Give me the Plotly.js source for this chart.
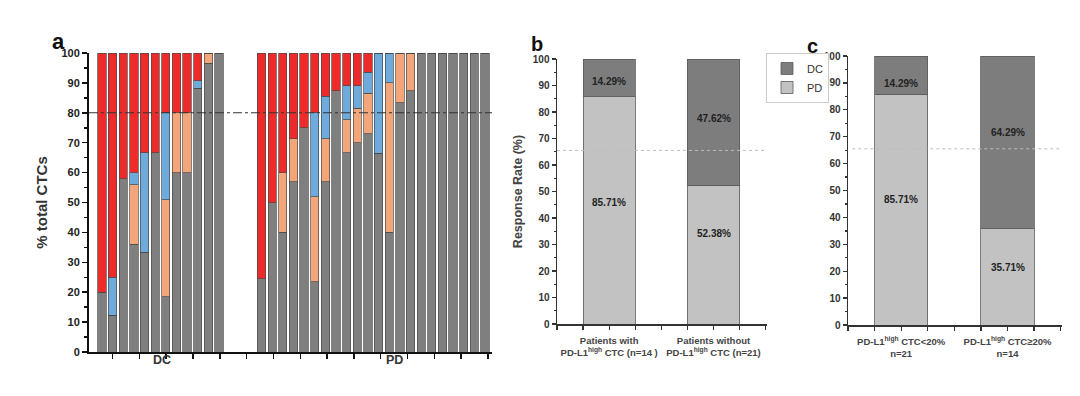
<!DOCTYPE html>
<html><head><meta charset="utf-8">
<script src="https://cdn.plot.ly/plotly-3.0.1.min.js"></script>
<style>html,body{margin:0;padding:0;background:#fff}#chart{width:1080px;height:396px}</style>
</head><body><div id="chart"></div>
<script>
// ---------- Panel a data (% of total CTCs per patient, stacked segments bottom->top) ----------
const dcGrey   = [20, 12.3, 58, 36, 33.3, 66.7, 18.5, 60, 60, 88.2, 96.5, 100];
const dcOrange = [0, 0, 0, 20, 0, 0, 32.5, 20, 20, 0, 3.5, 0];
const dcBlue   = [0, 12.7, 0, 4, 33.4, 0, 29, 0, 0, 2.5, 0, 0];
const dcRed    = [80, 75, 42, 40, 33.3, 33.3, 20, 20, 20, 9.3, 0, 0];

const pdGrey   = [24.5, 50, 40, 57, 75, 23.5, 57, 87.4, 66.7, 70, 73, 66.4, 40, 83.4, 87.4, 100, 100, 100, 100, 100, 100, 100];
const pdOrange = [0, 0, 20, 14.3, 0, 28.5, 14.3, 0, 11, 11.6, 13.5, 0, 50, 16.6, 12.6, 0, 0, 0, 0, 0, 0, 0];
const pdBlue   = [0, 0, 0, 0, 0, 28, 14.3, 0, 11.3, 7.4, 7, 33.6, 10, 0, 0, 0, 0, 0, 0, 0, 0, 0];
const pdRed    = [75.5, 50, 40, 28.7, 25, 20, 14.4, 12.6, 11, 11, 6.5, 0, 0, 0, 0, 0, 0, 0, 0, 0, 0, 0];
const groupLabels = ["DC", "PD"];
const cutoffA = 80;

// ---------- Panel b data ----------
const bCategories = ["Patients with<br>PD-L1<sup>high</sup> CTC (n=14 )", "Patients without<br>PD-L1<sup>high</sup> CTC (n=21)"];
const bPD = [85.71, 52.38];
const bDC = [14.29, 47.62];

// ---------- Panel c data ----------
const cCategories = ["PD-L1<sup>high</sup> CTC<20%<br>n=21", "PD-L1<sup>high</sup> CTC≥20%<br>n=14"];
const cPD = [85.71, 35.71];
const cDC = [14.29, 64.29];
const refLineBC = 65.5;

// ---------- build ----------
const gapSlots = 3;
const dcX = dcGrey.map((_, i) => i + 1);
const pdX = pdGrey.map((_, i) => dcGrey.length + gapSlots + i + 1);
const allX = dcX.concat(pdX);
const outline = {color: '#4a4a4a', width: 0.7};
const aColors = {grey: '#7f7f7f', orange: '#f2a67a', blue: '#6faadd', red: '#ee2b2b'};
function segA(name, vals, color) {
  return {type: 'bar', x: allX, y: vals, width: 0.78, xaxis: 'x', yaxis: 'y',
    marker: {color: color, line: outline}, showlegend: false, name: name, hoverinfo: 'skip'};
}
const traces = [
  segA('grey', dcGrey.concat(pdGrey), aColors.grey),
  segA('orange', dcOrange.concat(pdOrange), aColors.orange),
  segA('blue', dcBlue.concat(pdBlue), aColors.blue),
  segA('red', dcRed.concat(pdRed), aColors.red)
];
const bcX = [2, 6];
const colPD = '#c2c2c2', colDC = '#7d7d7d';
const bcLine = {color: '#5a5a5a', width: 0.8};
traces.push({type: 'bar', x: bcX, y: bPD, width: 2, xaxis: 'x2', yaxis: 'y2', name: 'PD', legendgroup: 'PD', legendrank: 2,
  marker: {color: colPD, line: bcLine}, showlegend: true});
traces.push({type: 'bar', x: bcX, y: bDC, width: 2, xaxis: 'x2', yaxis: 'y2', name: 'DC', legendgroup: 'DC', legendrank: 1,
  marker: {color: colDC, line: bcLine}, showlegend: true});
traces.push({type: 'bar', x: bcX, y: cPD, width: 2, xaxis: 'x3', yaxis: 'y3', name: 'PD', legendgroup: 'PD',
  marker: {color: colPD, line: bcLine}, showlegend: false});
traces.push({type: 'bar', x: bcX, y: cDC, width: 2, xaxis: 'x3', yaxis: 'y3', name: 'DC', legendgroup: 'DC',
  marker: {color: colDC, line: bcLine}, showlegend: false});

const F = 'Liberation Sans, Arial, sans-serif';
const fb = (s, c) => ({family: F, size: s, color: c || '#222', weight: 'bold'});
const px = v => v / 1080, py = v => 1 - v / 396;

function bcYAxis(dom, anchor, titleText) {
  const ax = {domain: dom, anchor: anchor, range: [0, 100], dtick: 10, tick0: 0, ticks: 'outside', ticklen: 4, tickwidth: 1.3,
    tickcolor: '#333', showline: true, linecolor: '#333', linewidth: 1.5, showgrid: false, zeroline: false,
    tickfont: fb(10, '#333'), minor: {dtick: 5, ticks: 'outside', ticklen: 2, tickcolor: '#333'}};
  if (titleText) ax.title = {text: titleText, font: fb(12.5, '#444'), standoff: 7};
  return ax;
}
function bcXAxis(dom, anchor, cats) {
  return {domain: dom, anchor: anchor, range: [0, 8.05], tickvals: bcX, ticktext: cats,
    ticks: 'outside', ticklen: 4, tickwidth: 1.3, tickcolor: '#333',
    minor: {tick0: 0, dtick: 1, ticks: 'outside', ticklen: 4, tickwidth: 1.3, tickcolor: '#333'},
    showline: true, linecolor: '#333', linewidth: 1.5, showgrid: false, zeroline: false,
    tickfont: fb(9.5, '#444'), tickangle: 0, ticklabelstandoff: 3};
}

const layout = {
  width: 1080, height: 396, autosize: false, margin: {l: 0, r: 0, t: 0, b: 0},
  paper_bgcolor: '#fff', plot_bgcolor: 'rgba(0,0,0,0)', barmode: 'stack', bargap: 0,
  xaxis: {domain: [px(89), px(492)], anchor: 'y', range: [-0.22, 37.66], tick0: 2, dtick: 2.52,
    ticks: 'outside', ticklen: 5, tickwidth: 1.5, tickcolor: '#111', showticklabels: false,
    showline: true, linecolor: '#111', linewidth: 2, showgrid: false, zeroline: false},
  yaxis: {domain: [py(352), py(53)], anchor: 'x', range: [0, 100], dtick: 10, ticks: 'outside', ticklen: 5, tickwidth: 1.5,
    tickcolor: '#111', showline: true, linecolor: '#111', linewidth: 2, showgrid: false, zeroline: false,
    tickfont: fb(11, '#222'), minor: {dtick: 5, ticks: 'outside', ticklen: 3, tickcolor: '#111'},
    title: {text: '% total CTCs', font: fb(15, '#333'), standoff: 10}},
  xaxis2: bcXAxis([px(557), px(767)], 'y2', bCategories),
  yaxis2: bcYAxis([py(324), py(59)], 'x2', 'Response Rate (%)'),
  xaxis3: bcXAxis([px(848), px(1062)], 'y3', cCategories),
  yaxis3: bcYAxis([py(325), py(56)], 'x3', null),
  showlegend: true,
  legend: {x: px(766), y: py(53), xanchor: 'left', yanchor: 'top', bgcolor: '#fff', bordercolor: '#ccc',
    borderwidth: 1, font: {family: F, size: 11, color: '#333'}, tracegroupgap: 0, traceorder: 'normal',
    itemwidth: 30},
  shapes: [
    {type: 'line', xref: 'x domain', x0: 0, x1: 1, yref: 'y', y0: cutoffA, y1: cutoffA,
      line: {color: '#333', width: 1.1, dash: 'dashdot'}},
    {type: 'line', xref: 'x2 domain', x0: 0, x1: 1, yref: 'y2', y0: refLineBC, y1: refLineBC,
      line: {color: '#bdbdbd', width: 1, dash: 'dot'}, layer: 'above'},
    {type: 'line', xref: 'x3 domain', x0: 0.02, x1: 1, yref: 'y3', y0: refLineBC, y1: refLineBC,
      line: {color: '#bdbdbd', width: 1, dash: 'dot'}, layer: 'above'}
  ],
  annotations: [
    {text: 'a', xref: 'paper', yref: 'paper', x: px(50), y: py(27), showarrow: false, font: fb(22, '#111')},
    {text: 'b', xref: 'paper', yref: 'paper', x: px(537), y: py(31), showarrow: false, font: fb(20, '#111')},
    {text: 'c', xref: 'paper', yref: 'paper', x: px(820), y: py(33), showarrow: false, font: fb(20, '#111')},
    {text: groupLabels[0], xref: 'x', x: 6.6, yref: 'paper', y: py(369), showarrow: false, font: fb(12.5, '#333')},
    {text: groupLabels[1], xref: 'x', x: 28.5, yref: 'paper', y: py(369), showarrow: false, font: fb(12.5, '#333')},
    {text: bDC[0].toFixed(2) + '%', xref: 'x2', x: bcX[0], yref: 'y2', y: 91.7, showarrow: false, font: fb(10, '#222')},
    {text: bPD[0].toFixed(2) + '%', xref: 'x2', x: bcX[0], yref: 'y2', y: 46, showarrow: false, font: fb(10, '#222')},
    {text: bDC[1].toFixed(2) + '%', xref: 'x2', x: bcX[1], yref: 'y2', y: 77.7, showarrow: false, font: fb(10, '#222')},
    {text: bPD[1].toFixed(2) + '%', xref: 'x2', x: bcX[1], yref: 'y2', y: 34.3, showarrow: false, font: fb(10, '#222')},
    {text: cDC[0].toFixed(2) + '%', xref: 'x3', x: bcX[0], yref: 'y3', y: 89.6, showarrow: false, font: fb(10, '#222')},
    {text: cPD[0].toFixed(2) + '%', xref: 'x3', x: bcX[0], yref: 'y3', y: 46.5, showarrow: false, font: fb(10, '#222')},
    {text: cDC[1].toFixed(2) + '%', xref: 'x3', x: bcX[1], yref: 'y3', y: 71.7, showarrow: false, font: fb(10, '#222')},
    {text: cPD[1].toFixed(2) + '%', xref: 'x3', x: bcX[1], yref: 'y3', y: 21.2, showarrow: false, font: fb(10, '#222')}
  ]
};
Plotly.newPlot('chart', traces, layout, {staticPlot: true, displayModeBar: false});
</script></body></html>
